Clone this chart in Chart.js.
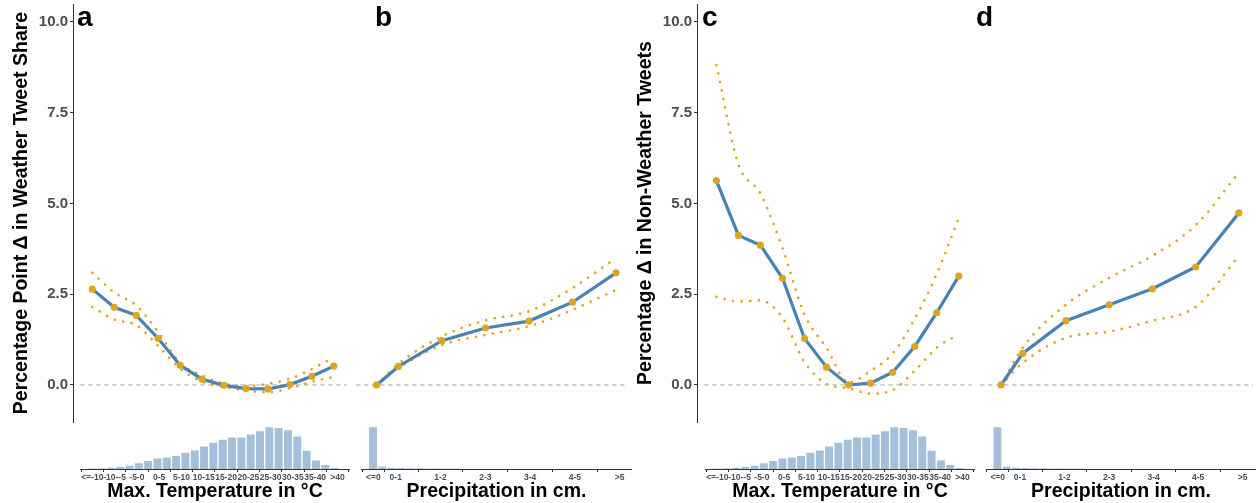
<!DOCTYPE html>
<html>
<head>
<meta charset="utf-8">
<script src="https://cdn.jsdelivr.net/npm/chart.js@4"></script>
<style>
  body { margin: 0; background: #fff; }
  #wrap { position: relative; width: 1257px; height: 503px; overflow: hidden; }
  canvas { position: absolute; }
</style>
</head>
<body>
<div id="wrap">
  <canvas id="lineA" width="351" height="426" style="left:0px;top:0px"></canvas>
  <canvas id="lineB" width="280" height="426" style="left:352px;top:0px"></canvas>
  <canvas id="lineC" width="352" height="426" style="left:624px;top:0px"></canvas>
  <canvas id="lineD" width="281" height="426" style="left:976px;top:0px"></canvas>
  <canvas id="histA" width="270" height="77" style="left:80px;top:426px"></canvas>
  <canvas id="histB" width="271" height="77" style="left:361px;top:426px"></canvas>
  <canvas id="histC" width="270" height="77" style="left:705px;top:426px"></canvas>
  <canvas id="histD" width="270" height="77" style="left:986px;top:426px"></canvas>
</div>
<script>
// categories (x in degrees C / cm, bin midpoints)
const tempLabels = ['<=-10', '-10--5', '-5-0', '0-5', '5-10', '10-15', '15-20', '20-25', '25-30', '30-35', '35-40', '>40'];
const tempMid = [-12.5, -7.5, -2.5, 2.5, 7.5, 12.5, 17.5, 22.5, 27.5, 32.5, 37.5, 42.5];
const precLabels = ['<=0', '0-1', '1-2', '2-3', '3-4', '4-5', '>5'];
const precMid = [0, 0.5, 1.5, 2.5, 3.5, 4.5, 5.5];
const yTicks = [0, 2.5, 5, 7.5, 10];

// a: weather tweet share vs max temperature
const estA = [2.64, 2.14, 1.92, 1.28, 0.54, 0.16, -0.01, -0.10, -0.11, 0.01, 0.24, 0.52];
const hiA = [3.09, 2.55, 2.19, 1.46, 0.61, 0.26, 0.04, -0.03, 0.03, 0.17, 0.44, 0.76];
const loA = [2.15, 1.80, 1.65, 1.08, 0.45, 0.09, -0.05, -0.16, -0.20, -0.09, 0.09, 0.22];

// b: weather tweet share vs precipitation
const estB = [0, 0.51, 1.22, 1.57, 1.76, 2.28, 3.09];
const hiB = [0, 0.58, 1.34, 1.78, 2.03, 2.67, 3.50];
const loB = [0, 0.47, 1.10, 1.38, 1.62, 2.07, 2.62];

// c: non-weather tweets vs max temperature
const estC = [5.63, 4.12, 3.85, 2.94, 1.28, 0.49, 0.0, 0.05, 0.35, 1.06, 1.99, 3.0];
const hiC = [8.81, 6.08, 5.27, 3.77, 1.94, 1.02, 0.07, 0.39, 0.87, 1.82, 3.06, 4.6];
const loC = [2.43, 2.30, 2.33, 1.85, 0.63, 0.03, -0.09, -0.24, -0.14, 0.39, 1.03, 1.39];

// d: non-weather tweets vs precipitation
const estD = [0, 0.87, 1.77, 2.21, 2.65, 3.25, 4.74];
const hiD = [0, 1.03, 2.21, 2.95, 3.56, 4.40, 5.85];
const loD = [0, 0.61, 1.30, 1.47, 1.77, 2.15, 3.55];

// histograms of observations
const tempHistStart = -13.55, tempHistWidth = 2.09;
const tempCounts = [1, 2, 5, 8, 12, 19, 26, 33, 36, 41, 50, 57, 69, 80, 89, 96, 96, 105, 114, 126, 124, 117, 99, 56, 27, 14, 4];
const precHistStart = -0.11, precHistWidth = 0.208;
const precCounts = [126, 9, 6, 4, 3, 2, 1.5, 1.5, 1, 1];

const FONT = '"Liberation Sans", Arial, sans-serif';
Chart.defaults.font.family = FONT;
Chart.defaults.animation = false;

const gold = '#dea521';
const steel = '#4682b4';

const zeroLine = {
  id: 'zeroLine',
  beforeDatasetsDraw(chart, args, opts) {
    const { ctx, chartArea, scales } = chart;
    const py = scales.y.getPixelForValue(0);
    const x0 = opts.from != null ? scales.x.getPixelForValue(opts.from) : chartArea.left;
    ctx.save();
    ctx.strokeStyle = '#bdbdbd';
    ctx.lineWidth = 1.2;
    ctx.setLineDash([4.5, 3.5]);
    ctx.beginPath();
    ctx.moveTo(x0, py);
    ctx.lineTo(chartArea.right, py);
    ctx.stroke();
    ctx.restore();
  }
};

const panelTag = {
  id: 'panelTag',
  afterDraw(chart, args, opts) {
    if (!opts.text) return;
    const ctx = chart.ctx;
    ctx.save();
    ctx.font = 'bold 28px ' + FONT;
    ctx.fillStyle = '#000';
    ctx.textBaseline = 'alphabetic';
    ctx.fillText(opts.text, opts.x, 26);
    ctx.restore();
  }
};

function pts(xs, ys) {
  return ys.map((v, i) => ({ x: xs[i], y: v }));
}

function makeLine(id, xs, est, hi, lo, xr, o) {
  const ci = (arr) => ({
    data: pts(xs, arr),
    borderColor: gold,
    borderWidth: 2.7,
    borderDash: [0.01, 8.6],
    borderCapStyle: 'round',
    pointRadius: 0,
    cubicInterpolationMode: 'monotone'
  });
  const hasAxis = !!o.yTitle;
  const yAxis = {
    min: -1.02, max: 10.495,
    display: hasAxis,
    afterBuildTicks: (s) => { s.ticks = yTicks.map((v) => ({ value: v })); },
    afterFit: (s) => {
      if (!hasAxis) return;
      s.width = 73; s.paddingTop = 0; s.paddingBottom = 0;
    },
    ticks: {
      color: '#4d4d4d', padding: 2,
      font: { family: FONT, weight: 'bold', size: 15 },
      callback: (v) => Number(v).toFixed(1)
    },
    grid: { display: true, drawOnChartArea: false, drawTicks: true, tickLength: 3, color: '#333' },
    border: { display: true, color: '#333', width: 1 },
    title: {
      display: hasAxis, text: o.yTitle || '', color: '#000',
      font: { family: FONT, weight: 'bold', size: 19.5 },
      padding: { top: 9.5, bottom: 0 }
    }
  };
  new Chart(document.getElementById(id), {
    type: 'line',
    data: {
      datasets: [
        {
          data: pts(xs, est),
          borderColor: steel,
          borderWidth: 3.2,
          pointRadius: 3.6,
          pointBackgroundColor: gold,
          pointBorderWidth: 0,
          tension: 0
        },
        ci(hi),
        ci(lo)
      ]
    },
    options: {
      responsive: false,
      layout: { padding: 0 },
      plugins: {
        legend: { display: false },
        tooltip: { enabled: false },
        zeroLine: { from: o.zeroFrom },
        panelTag: { text: o.tag, x: o.tagX }
      },
      scales: {
        x: { type: 'linear', display: false, min: xr[0], max: xr[1] },
        y: yAxis
      }
    },
    plugins: [zeroLine, panelTag]
  });
}

function makeHist(id, start, width, counts, mids, labels, xr, title) {
  new Chart(document.getElementById(id), {
    type: 'bar',
    data: {
      datasets: [{
        data: counts.map((c, k) => ({ x: start + (k + 0.5) * width, y: c })),
        backgroundColor: '#a3bfd9',
        borderColor: 'rgba(255,255,255,0.5)',
        borderWidth: 1,
        barPercentage: 1,
        categoryPercentage: 1
      }]
    },
    options: {
      responsive: false,
      layout: { padding: 0 },
      plugins: { legend: { display: false }, tooltip: { enabled: false } },
      scales: {
        x: {
          type: 'linear', offset: false, min: xr[0], max: xr[1],
          afterBuildTicks: (s) => { s.ticks = mids.map((v) => ({ value: v })); },
          afterFit: (s) => { s.height = 34; s.paddingLeft = 0; s.paddingRight = 0; },
          ticks: {
            autoSkip: false, maxRotation: 0, minRotation: 0, padding: 1,
            color: '#4d4d4d',
            font: { family: FONT, weight: 'bold', size: 8.5 },
            callback: (v, i) => labels[i]
          },
          grid: { display: true, drawOnChartArea: false, drawTicks: true, tickLength: 3, color: '#333' },
          border: { display: true, color: '#333', width: 1 },
          title: {
            display: true, text: title, color: '#000',
            font: { family: FONT, weight: 'bold', size: 19.5 },
            padding: { top: 0, bottom: 0 }
          }
        },
        y: { display: false, min: 0, max: 128 }
      }
    }
  });
}

makeLine('lineA', tempMid, estA, hiA, loA, [-16.9, 45.5],
  { yTitle: 'Percentage Point Δ in Weather Tweet Share', tag: 'a', tagX: 77, zeroFrom: -15.25 });
makeLine('lineB', precMid, estB, hiB, loB, [-0.475, 5.775], { tag: 'b', tagX: 23 });
makeLine('lineC', tempMid, estC, hiC, loC, [-16.9, 45.5],
  { yTitle: 'Percentage Δ in Non-Weather Tweets', tag: 'c', tagX: 78, zeroFrom: -15.25 });
makeLine('lineD', precMid, estD, hiD, loD, [-0.488, 5.827], { tag: 'd', tagX: 0 });

makeHist('histA', tempHistStart, tempHistWidth, tempCounts, tempMid, tempLabels, [-15.25, 45.3], 'Max. Temperature in °C');
makeHist('histB', precHistStart, precHistWidth, precCounts, precMid, precLabels, [-0.275, 5.775], 'Precipitation in cm.');
makeHist('histC', tempHistStart, tempHistWidth, tempCounts, tempMid, tempLabels, [-15.25, 45.3], 'Max. Temperature in °C');
makeHist('histD', precHistStart, precHistWidth, precCounts, precMid, precLabels, [-0.263, 5.80], 'Precipitation in cm.');
</script>
</body>
</html>
